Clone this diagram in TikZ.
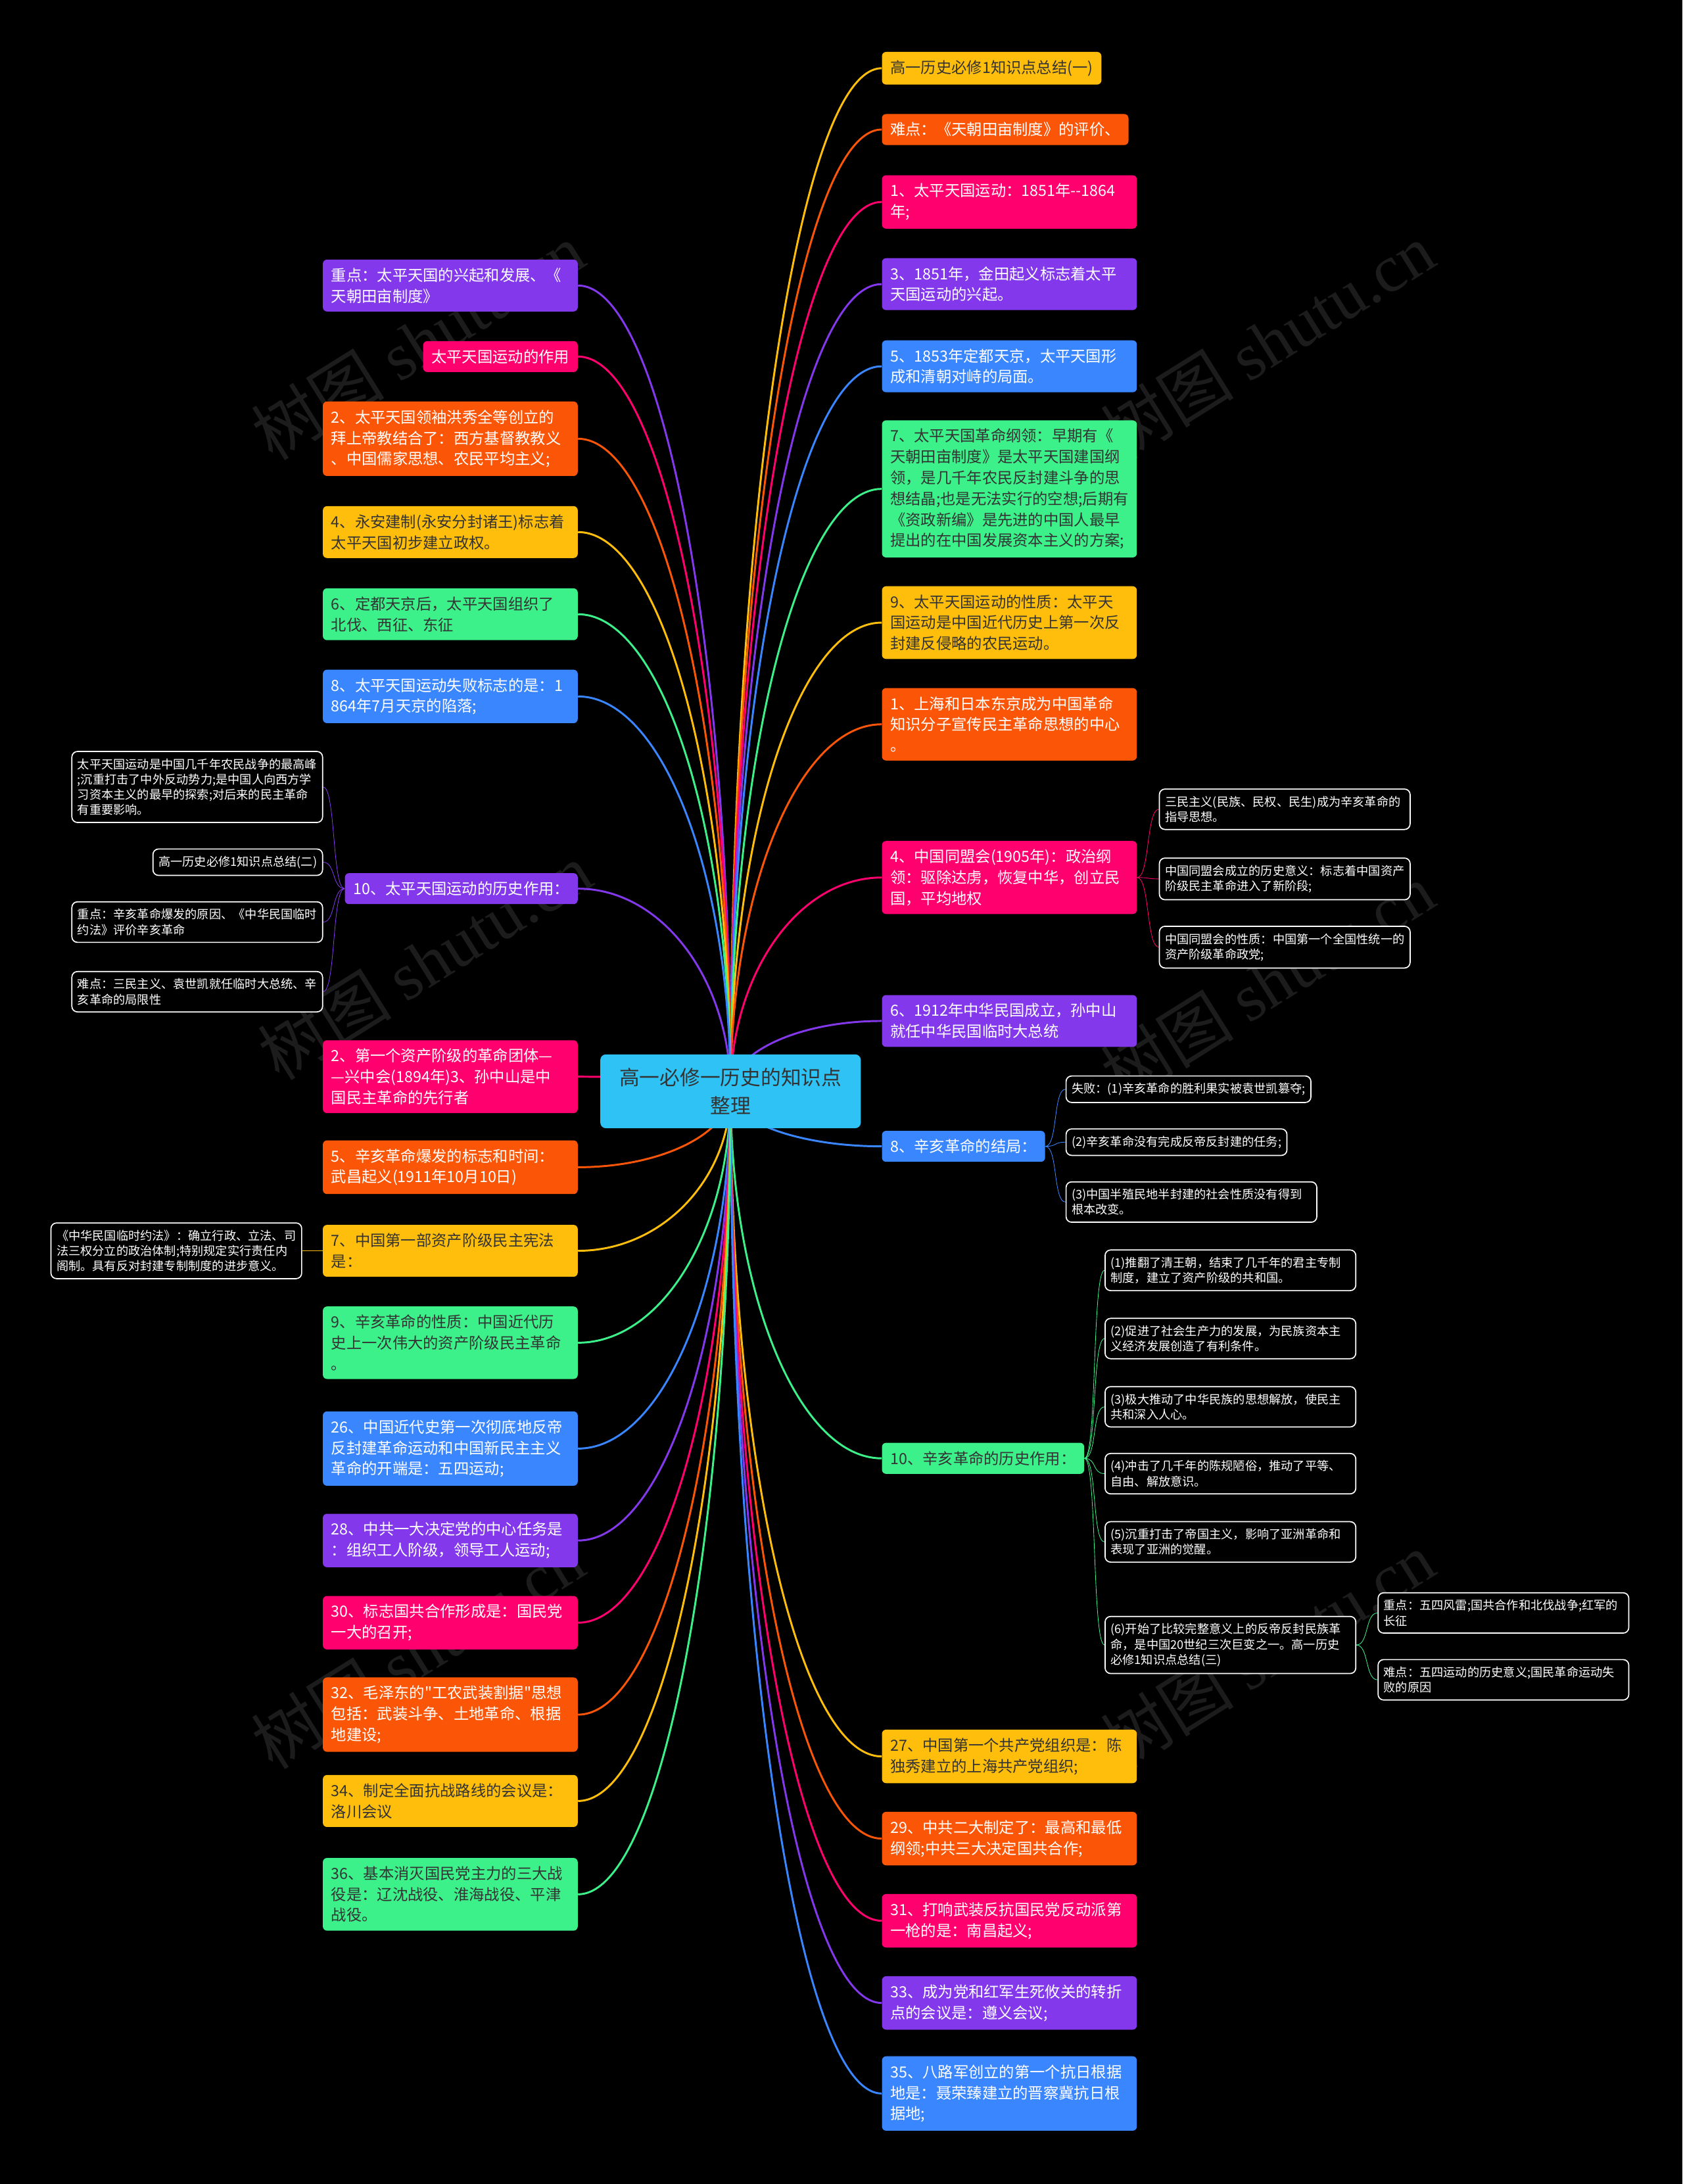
\documentclass[tikz,border=0pt]{standalone}
\usepackage{fontspec}
\setmainfont{Noto Sans CJK SC}[Ligatures=TeXOff]
\newfontfamily\wmfont{Liberation Serif}
\usetikzlibrary{calc}
\pgfdeclarelayer{bg}
\pgfdeclarelayer{wires}
\pgfsetlayers{bg,wires,main}
\definecolor{cyel}{HTML}{FFBE0B}
\definecolor{corg}{HTML}{FB5607}
\definecolor{cpnk}{HTML}{FF006E}
\definecolor{cpur}{HTML}{8338EC}
\definecolor{cblu}{HTML}{3A86FF}
\definecolor{cgrn}{HTML}{3CF08A}
\definecolor{croot}{HTML}{2EC2F5}
\definecolor{cdark}{HTML}{333333}
\definecolor{cwm}{HTML}{1C1C1C}

\begin{document}
\begin{tikzpicture}[x=1pt,y=-1pt,
  box/.style={rounded corners=3pt,inner xsep=6pt,inner ysep=6pt,align=left,
    font=\fontsize{11}{15}\selectfont,text=white},
  wide/.style={text width=171pt},
  yel/.style={box,fill=cyel,text=cdark},
  org/.style={box,fill=corg},
  pnk/.style={box,fill=cpnk},
  pur/.style={box,fill=cpur},
  blu/.style={box,fill=cblu},
  grn/.style={box,fill=cgrn,text=cdark},
  leaf/.style={draw=white,line width=0.8pt,rounded corners=4pt,fill=black,text=white,
    inner xsep=4pt,inner ysep=5pt,align=left,font=\fontsize{8.6}{11}\selectfont},
  lwide/.style={text width=172pt},
  wm/.style={rotate=32,text=cwm,font=\fontsize{48}{48}\selectfont},
  lw/.style={line width=1.4pt},
  br/.style={to path={.. controls ($(\tikztostart)!0.55!(\tikztostart |- \tikztotarget)$)
    and ($(\tikztotarget)!0.55!(\tikztostart |- \tikztotarget)$) .. (\tikztotarget)}},
  sr/.style={line width=1pt,to path={.. controls +(9,0) and +(-9,0) .. (\tikztotarget)}},
  sl/.style={line width=1pt,to path={.. controls +(-9,0) and +(9,0) .. (\tikztotarget)}}]
\useasboundingbox (0,0) rectangle (1208,1568);
\begin{pgfonlayer}{bg}
\fill[black] (0,0) rectangle (1208,1568);
% watermarks
\node[wm] (w1) at (300,245) {树图 {\wmfont shutu.cn}};
\node[wm] (w2) at (910,245) {树图 {\wmfont shutu.cn}};
\node[wm] (w3) at (305,690) {树图 {\wmfont shutu.cn}};
\node[wm] (w4) at (910,705) {树图 {\wmfont shutu.cn}};
\node[wm] (w5) at (300,1185) {树图 {\wmfont shutu.cn}};
\node[wm] (w6) at (910,1185) {树图 {\wmfont shutu.cn}};
\end{pgfonlayer}

% root
\node[rounded corners=4pt,fill=croot,text=cdark,minimum width=187pt,minimum height=53pt,
  align=center,font=\fontsize{14.5}{20}\selectfont] (root) at (524.5,783.5) {高一必修一历史的知识点\\整理};

% right side
\node[yel,anchor=west] (r1) at (633,49) {高一历史必修1知识点总结(一)};
\node[org,anchor=west] (r2) at (633,93) {难点：《天朝田亩制度》的评价、};
\node[pnk,wide,anchor=west] (r3) at (633,145) {1、太平天国运动：1851年-{}-1864\\年;};
\node[pur,wide,anchor=west] (r4) at (633,204) {3、1851年，金田起义标志着太平\\天国运动的兴起。};
\node[blu,wide,anchor=west] (r5) at (633,263) {5、1853年定都天京，太平天国形\\成和清朝对峙的局面。};
\node[grn,wide,anchor=west] (r6) at (633,351) {7、太平天国革命纲领：早期有《\\天朝田亩制度》是太平天国建国纲\\领，是几千年农民反封建斗争的思\\想结晶;也是无法实行的空想;后期有\\《资政新编》是先进的中国人最早\\提出的在中国发展资本主义的方案;};
\node[yel,wide,anchor=west] (r7) at (633,447) {9、太平天国运动的性质：太平天\\国运动是中国近代历史上第一次反\\封建反侵略的农民运动。};
\node[org,wide,anchor=west] (r8) at (633,520) {1、上海和日本东京成为中国革命\\知识分子宣传民主革命思想的中心\\。};
\node[pnk,wide,anchor=west] (r9) at (633,630) {4、中国同盟会(1905年)：政治纲\\领：驱除达虏，恢复中华，创立民\\国，平均地权};
\node[pur,wide,anchor=west] (r10) at (633,733) {6、1912年中华民国成立，孙中山\\就任中华民国临时大总统};
\node[blu,anchor=west] (r11) at (633,823) {8、辛亥革命的结局：};
\node[grn,anchor=west] (r12) at (633,1047) {10、辛亥革命的历史作用：};
\node[yel,wide,anchor=west] (r13) at (633,1261) {27、中国第一个共产党组织是：陈\\独秀建立的上海共产党组织;};
\node[org,wide,anchor=west] (r14) at (633,1320) {29、中共二大制定了：最高和最低\\纲领;中共三大决定国共合作;};
\node[pnk,wide,anchor=west] (r15) at (633,1379) {31、打响武装反抗国民党反动派第\\一枪的是：南昌起义;};
\node[pur,wide,anchor=west] (r16) at (633,1438) {33、成为党和红军生死攸关的转折\\点的会议是：遵义会议;};
\node[blu,wide,anchor=west] (r17) at (633,1503) {35、八路军创立的第一个抗日根据\\地是：聂荣臻建立的晋察冀抗日根\\据地;};

% left side
\node[pur,wide,anchor=east] (l1) at (415,205) {重点：太平天国的兴起和发展、《\\天朝田亩制度》};
\node[pnk,anchor=east] (l2) at (415,256) {太平天国运动的作用};
\node[org,wide,anchor=east] (l3) at (415,315) {2、太平天国领袖洪秀全等创立的\\拜上帝教结合了：西方基督教教义\\、中国儒家思想、农民平均主义;};
\node[yel,wide,anchor=east] (l4) at (415,382) {4、永安建制(永安分封诸王)标志着\\太平天国初步建立政权。};
\node[grn,wide,anchor=east] (l5) at (415,441) {6、定都天京后，太平天国组织了\\北伐、西征、东征};
\node[blu,wide,anchor=east] (l6) at (415,500) {8、太平天国运动失败标志的是：1\\864年7月天京的陷落;};
\node[pur,anchor=east] (l7) at (415,638) {10、太平天国运动的历史作用：};
\node[pnk,wide,anchor=east] (l8) at (415,773) {2、第一个资产阶级的革命团体—\\—兴中会(1894年)3、孙中山是中\\国民主革命的先行者};
\node[org,wide,anchor=east] (l9) at (415,838) {5、辛亥革命爆发的标志和时间：\\武昌起义(1911年10月10日)};
\node[yel,wide,anchor=east] (l10) at (415,898) {7、中国第一部资产阶级民主宪法\\是：};
\node[grn,wide,anchor=east] (l11) at (415,964) {9、辛亥革命的性质：中国近代历\\史上一次伟大的资产阶级民主革命\\。};
\node[blu,wide,anchor=east] (l12) at (415,1040) {26、中国近代史第一次彻底地反帝\\反封建革命运动和中国新民主主义\\革命的开端是：五四运动;};
\node[pur,wide,anchor=east] (l13) at (415,1106) {28、中共一大决定党的中心任务是\\：组织工人阶级，领导工人运动;};
\node[pnk,wide,anchor=east] (l14) at (415,1165) {30、标志国共合作形成是：国民党\\一大的召开;};
\node[org,wide,anchor=east] (l15) at (415,1231) {32、毛泽东的"工农武装割据"思想\\包括：武装斗争、土地革命、根据\\地建设;};
\node[yel,wide,anchor=east] (l16) at (415,1293) {34、制定全面抗战路线的会议是：\\洛川会议};
\node[grn,wide,anchor=east] (l17) at (415,1360) {36、基本消灭国民党主力的三大战\\役是：辽沈战役、淮海战役、平津\\战役。};

% leaves
\node[leaf,lwide,anchor=east] (s1) at (232,565) {太平天国运动是中国几千年农民战争的最高峰\\;沉重打击了中外反动势力;是中国人向西方学\\习资本主义的最早的探索;对后来的民主革命\\有重要影响。};
\node[leaf,anchor=east] (s2) at (232,619) {高一历史必修1知识点总结(二)};
\node[leaf,lwide,anchor=east] (s3) at (232,662) {重点：辛亥革命爆发的原因、《中华民国临时\\约法》评价辛亥革命};
\node[leaf,lwide,anchor=east] (s4) at (232,712) {难点：三民主义、袁世凯就任临时大总统、辛\\亥革命的局限性};
\node[leaf,lwide,anchor=east] (k1) at (217,898) {《中华民国临时约法》：确立行政、立法、司\\法三权分立的政治体制;特别规定实行责任内\\阁制。具有反对封建专制制度的进步意义。};
\node[leaf,lwide,anchor=west] (p1) at (832,581) {三民主义(民族、民权、民生)成为辛亥革命的\\指导思想。};
\node[leaf,lwide,anchor=west] (p2) at (832,631) {中国同盟会成立的历史意义：标志着中国资产\\阶级民主革命进入了新阶段;};
\node[leaf,lwide,anchor=west] (p3) at (832,680) {中国同盟会的性质：中国第一个全国性统一的\\资产阶级革命政党;};
\node[leaf,anchor=west] (b1) at (765,782) {失败：(1)辛亥革命的胜利果实被袁世凯篡夺;};
\node[leaf,anchor=west] (b2) at (765,820) {(2)辛亥革命没有完成反帝反封建的任务;};
\node[leaf,lwide,anchor=west] (b3) at (765,863) {(3)中国半殖民地半封建的社会性质没有得到\\根本改变。};
\node[leaf,lwide,anchor=west] (g1) at (793,912) {(1)推翻了清王朝，结束了几千年的君主专制\\制度，建立了资产阶级的共和国。};
\node[leaf,lwide,anchor=west] (g2) at (793,961) {(2)促进了社会生产力的发展，为民族资本主\\义经济发展创造了有利条件。};
\node[leaf,lwide,anchor=west] (g3) at (793,1010) {(3)极大推动了中华民族的思想解放，使民主\\共和深入人心。};
\node[leaf,lwide,anchor=west] (g4) at (793,1058) {(4)冲击了几千年的陈规陋俗，推动了平等、\\自由、解放意识。};
\node[leaf,lwide,anchor=west] (g5) at (793,1107) {(5)沉重打击了帝国主义，影响了亚洲革命和\\表现了亚洲的觉醒。};
\node[leaf,lwide,anchor=west] (g6) at (793,1181) {(6)开始了比较完整意义上的反帝反封民族革\\命，是中国20世纪三次巨变之一。高一历史\\必修1知识点总结(三)};
\node[leaf,lwide,anchor=west] (h1) at (989,1158) {重点：五四风雷;国共合作和北伐战争;红军的\\长征};
\node[leaf,lwide,anchor=west] (h2) at (989,1206) {难点：五四运动的历史意义;国民革命运动失\\败的原因};

\begin{pgfonlayer}{wires}
% main branches
\draw[lw,cyel] (root.center) to[br] (r1.west);
\draw[lw,corg] (root.center) to[br] (r2.west);
\draw[lw,cpnk] (root.center) to[br] (r3.west);
\draw[lw,cpur] (root.center) to[br] (r4.west);
\draw[lw,cblu] (root.center) to[br] (r5.west);
\draw[lw,cgrn] (root.center) to[br] (r6.west);
\draw[lw,cyel] (root.center) to[br] (r7.west);
\draw[lw,corg] (root.center) to[br] (r8.west);
\draw[lw,cpnk] (root.center) to[br] (r9.west);
\draw[lw,cpur] (root.center) to[br] (r10.west);
\draw[lw,cblu] (root.center) to[br] (r11.west);
\draw[lw,cgrn] (root.center) to[br] (r12.west);
\draw[lw,cyel] (root.center) to[br] (r13.west);
\draw[lw,corg] (root.center) to[br] (r14.west);
\draw[lw,cpnk] (root.center) to[br] (r15.west);
\draw[lw,cpur] (root.center) to[br] (r16.west);
\draw[lw,cblu] (root.center) to[br] (r17.west);
\draw[lw,cpur] (root.center) to[br] (l1.east);
\draw[lw,cpnk] (root.center) to[br] (l2.east);
\draw[lw,corg] (root.center) to[br] (l3.east);
\draw[lw,cyel] (root.center) to[br] (l4.east);
\draw[lw,cgrn] (root.center) to[br] (l5.east);
\draw[lw,cblu] (root.center) to[br] (l6.east);
\draw[lw,cpur] (root.center) to[br] (l7.east);
\draw[lw,cpnk] (root.center) to[br] (l8.east);
\draw[lw,corg] (root.center) to[br] (l9.east);
\draw[lw,cyel] (root.center) to[br] (l10.east);
\draw[lw,cgrn] (root.center) to[br] (l11.east);
\draw[lw,cblu] (root.center) to[br] (l12.east);
\draw[lw,cpur] (root.center) to[br] (l13.east);
\draw[lw,cpnk] (root.center) to[br] (l14.east);
\draw[lw,corg] (root.center) to[br] (l15.east);
\draw[lw,cyel] (root.center) to[br] (l16.east);
\draw[lw,cgrn] (root.center) to[br] (l17.east);
% sub branches
\draw[cpur] (l7.west) to[sl] (s1.east);
\draw[cpur] (l7.west) to[sl] (s2.east);
\draw[cpur] (l7.west) to[sl] (s3.east);
\draw[cpur] (l7.west) to[sl] (s4.east);
\draw[cyel] (l10.west) to[sl] (k1.east);
\draw[cpnk] (r9.east) to[sr] (p1.west);
\draw[cpnk] (r9.east) to[sr] (p2.west);
\draw[cpnk] (r9.east) to[sr] (p3.west);
\draw[cblu] (r11.east) to[sr] (b1.west);
\draw[cblu] (r11.east) to[sr] (b2.west);
\draw[cblu] (r11.east) to[sr] (b3.west);
\draw[cgrn] (r12.east) to[sr] (g1.west);
\draw[cgrn] (r12.east) to[sr] (g2.west);
\draw[cgrn] (r12.east) to[sr] (g3.west);
\draw[cgrn] (r12.east) to[sr] (g4.west);
\draw[cgrn] (r12.east) to[sr] (g5.west);
\draw[cgrn] (r12.east) to[sr] (g6.west);
\draw[cgrn] (g6.east) to[sr] (h1.west);
\draw[cgrn] (g6.east) to[sr] (h2.west);
\end{pgfonlayer}
\end{tikzpicture}
\end{document}
